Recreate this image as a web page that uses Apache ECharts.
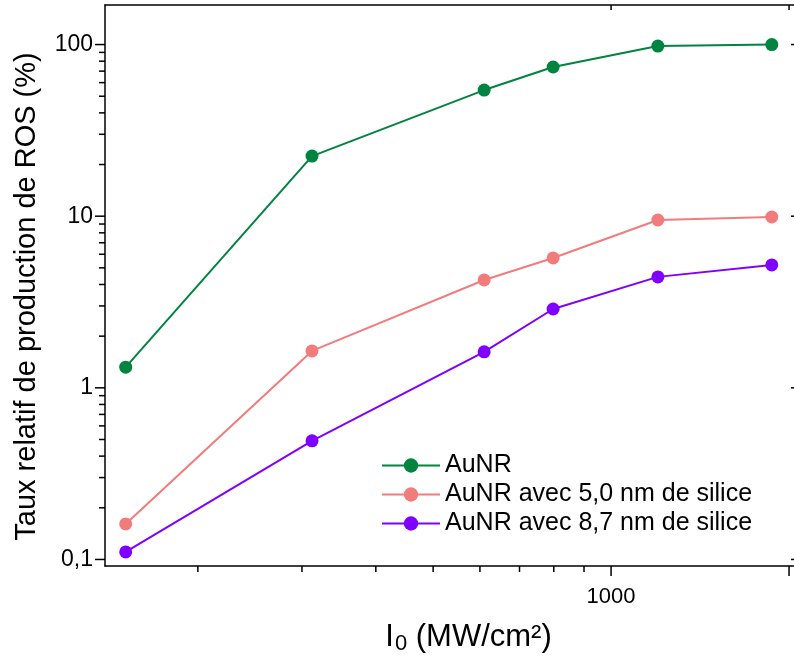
<!DOCTYPE html>
<html>
<head>
<meta charset="utf-8">
<script src="https://cdn.jsdelivr.net/npm/echarts@6/dist/echarts.min.js"></script>
<style>
html,body{margin:0;padding:0;background:#fff;overflow:hidden;}
#chart{width:794px;height:657px;}
</style>
</head>
<body>
<div id="chart"></div>
<script>
// ---- data ----
const intensities = [151, 312, 610, 798, 1200, 1870];
const aunr = [1.32, 22.4, 54.3, 74, 98, 100];
const aunr50 = [0.161, 1.64, 4.25, 5.71, 9.5, 9.89];
const aunr87 = [0.1107, 0.491, 1.62, 2.88, 4.43, 5.2];
const seriesNames = ['AuNR', 'AuNR avec 5,0 nm de silice', 'AuNR avec 8,7 nm de silice'];
const seriesColors = ['#00843f', '#f27b7b', '#8000ff'];

const X_MIN = 139.3, X_MAX = 2055;
const Y_MIN = 0.0916, Y_MAX = 170;
const xMajorTicks = [1000, 2000];
const xMinorTicks = [200, 300, 400, 500, 600, 700, 800, 900];
const yMajorTicks = [0.1, 1, 10, 100];
const yMinorTicks = [0.2, 0.3, 0.4, 0.5, 0.6, 0.7, 0.8, 0.9, 2, 3, 4, 5, 6, 7, 8, 9, 20, 30, 40, 50, 60, 70, 80, 90];

// tick items: [x, y, kind] kind: 0 bottom major,1 bottom minor,2 top major,3 left major,4 left minor,5 right major
const tickData = [];
xMajorTicks.forEach(v => { tickData.push([v, Y_MIN, 0]); tickData.push([v, Y_MAX, 2]); });
xMinorTicks.forEach(v => tickData.push([v, Y_MIN, 1]));
yMajorTicks.forEach(v => { tickData.push([X_MIN, v, 3]); tickData.push([X_MAX, v, 5]); });
yMinorTicks.forEach(v => tickData.push([X_MIN, v, 4]));

function isPow10(v) {
  const l = Math.log10(v);
  return Math.abs(l - Math.round(l)) < 1e-6;
}

const chart = echarts.init(document.getElementById('chart'));
const font = 'Liberation Sans, Arial, sans-serif';

const lineSeries = [aunr, aunr50, aunr87].map((vals, i) => ({
  name: seriesNames[i],
  type: 'line',
  data: intensities.map((x, j) => [x, vals[j]]),
  symbol: 'circle',
  symbolSize: 13,
  lineStyle: { width: 2, color: seriesColors[i] },
  itemStyle: { color: seriesColors[i] },
  z: 3 - i + 2
}));

chart.setOption({
  animation: false,
  backgroundColor: '#fff',
  grid: { left: 105, top: 5, width: 691, height: 561, containLabel: false, outerBoundsMode: 'none' },
  legend: {
    orient: 'vertical',
    left: 381, top: 451,
    padding: 0,
    itemGap: 0,
    itemWidth: 58,
    itemHeight: 18,
    data: seriesNames,
    textStyle: { fontFamily: font, fontSize: 25, color: '#000', lineHeight: 29 }
  },
  xAxis: [{
    type: 'log', logBase: 10, min: X_MIN, max: X_MAX,
    position: 'bottom',
    axisLine: { show: true, lineStyle: { color: '#000', width: 1.5 } },
    axisTick: { show: false },
    splitLine: { show: false },
    axisLabel: {
      margin: 20, fontFamily: font, fontSize: 22, color: '#000',
      showMinLabel: false, showMaxLabel: false,
      formatter: v => isPow10(v) ? String(Math.round(v)) : ''
    },
    name: '{i|I}{s|0}{i| (MW/cm²)}',
    nameLocation: 'middle', nameGap: 53,
    nameTextStyle: {
      padding: [0, 0, 0, 36],
      rich: {
        i: { fontFamily: font, fontSize: 31, color: '#000' },
        s: { fontFamily: font, fontSize: 22, color: '#000', verticalAlign: 'bottom', padding: [14, 0, 0, 1] }
      }
    }
  }, {
    type: 'log', logBase: 10, min: X_MIN, max: X_MAX,
    position: 'top',
    axisLine: { show: true, lineStyle: { color: '#000', width: 1.5 } },
    axisTick: { show: false }, axisLabel: { show: false }, splitLine: { show: false }
  }],
  yAxis: [{
    type: 'log', logBase: 10, min: Y_MIN, max: Y_MAX,
    position: 'left',
    axisLine: { show: true, lineStyle: { color: '#000', width: 1.5 } },
    axisTick: { show: false },
    splitLine: { show: false },
    axisLabel: {
      margin: 12, fontFamily: font, fontSize: 23, color: '#000',
      showMinLabel: false, showMaxLabel: false,
      formatter: v => {
        if (!isPow10(v)) return '';
        const e = Math.round(Math.log10(v));
        return e < 0 ? Math.pow(10, e).toFixed(-e).replace('.', ',') : String(Math.pow(10, e));
      }
    },
    name: 'Taux relatif de production de ROS (%)',
    nameLocation: 'middle', nameGap: 64, nameRotate: 90,
    nameTextStyle: { fontFamily: font, fontSize: 29, color: '#000', padding: [0, 22, 0, 0] }
  }, {
    type: 'log', logBase: 10, min: Y_MIN, max: Y_MAX,
    position: 'right',
    axisLine: { show: true, lineStyle: { color: '#000', width: 1.5 } },
    axisTick: { show: false }, axisLabel: { show: false }, splitLine: { show: false }
  }],
  series: lineSeries.concat([{
    type: 'custom',
    silent: true,
    clip: false,
    data: tickData,
    encode: { x: 0, y: 1 },
    renderItem: (params, api) => {
      const p = api.coord([api.value(0), api.value(1)]);
      const k = api.value(2);
      let x1 = p[0], y1 = p[1], x2 = p[0], y2 = p[1];
      if (k === 0) y2 = y1 + 10;
      else if (k === 1) y2 = y1 + 6;
      else if (k === 2) y2 = y1 + 5;
      else if (k === 3) x2 = x1 - 10;
      else if (k === 4) x2 = x1 - 6;
      else if (k === 5) x2 = x1 - 5;
      return { type: 'line', shape: { x1, y1, x2, y2 }, style: { stroke: '#000', lineWidth: 1.5 } };
    }
  }])
});
</script>
</body>
</html>
